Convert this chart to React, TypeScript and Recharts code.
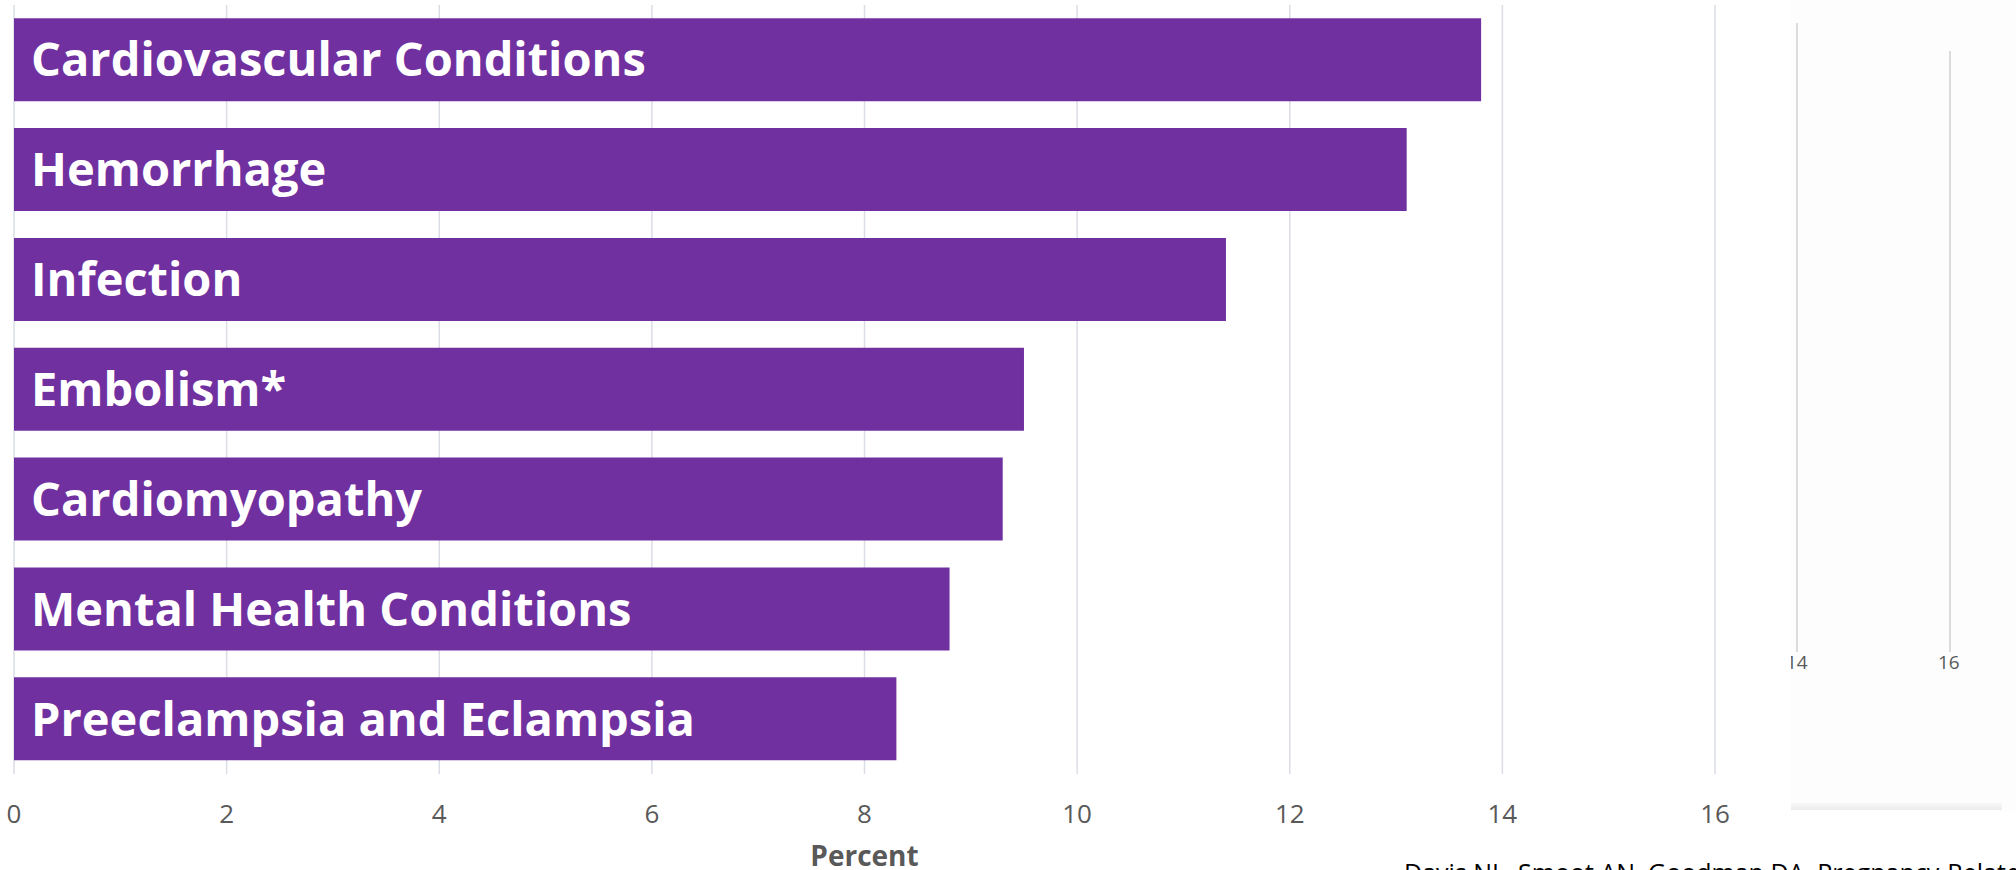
import { BarChart, Bar, XAxis, YAxis, CartesianGrid, LabelList, Label } from 'recharts';

const causes = [
  'Cardiovascular Conditions',
  'Hemorrhage',
  'Infection',
  'Embolism*',
  'Cardiomyopathy',
  'Mental Health Conditions',
  'Preeclampsia and Eclampsia',
];

const percents = [13.8, 13.1, 11.4, 9.5, 9.3, 8.8, 8.3];

const xTicks = [0, 2, 4, 6, 8, 10, 12, 14, 16];

// leftover pasted snippet on the right side of the slide
const insetTicks = ['14', '16'];

const PURPLE = '#7030A0';
const GRID = '#DADDE6';
const AXIS_TEXT = '#595959';

const chartData = causes.map((name, i) => ({ name, value: percents[i] }));

export default function App() {
  return (
    <div style={{ position: 'absolute', left: 0, top: 0, width: 2016, height: 870, background: '#fff', overflow: 'hidden' }}>
      <BarChart
        width={2016}
        height={870}
        data={chartData}
        layout="vertical"
        margin={{ top: 5, right: 301, left: 14, bottom: 0 }}
        barCategoryGap="12%"
      >
        <CartesianGrid horizontal={false} stroke={GRID} strokeWidth={1.5} />
        <XAxis
          type="number"
          domain={[0, 16]}
          ticks={xTicks}
          interval={0}
          height={96}
          axisLine={false}
          tickLine={false}
          tickMargin={25}
          tick={{ fill: AXIS_TEXT, fontSize: 26, fontFamily: 'Open Sans' }}
        >
          <Label
            value="Percent"
            position="insideBottom"
            offset={4}
            style={{ fill: AXIS_TEXT, fontSize: 28, fontWeight: 'bold', fontFamily: 'Open Sans' }}
          />
        </XAxis>
        <YAxis type="category" dataKey="name" hide />
        <Bar dataKey="value" fill={PURPLE} isAnimationActive={false}>
          <LabelList
            dataKey="name"
            position="insideLeft"
            offset={17}
            style={{ fill: '#fff', fontSize: 47, fontWeight: 'bold', fontFamily: 'Open Sans' }}
          />
        </Bar>
      </BarChart>

      <div style={{ position: 'absolute', left: 1791, top: 0, width: 225, height: 812, background: '#fdfdfd', overflow: 'hidden' }}>
        <div style={{ position: 'absolute', left: 5, top: 23, width: 2, height: 629, background: '#dcdcdc' }} />
        <div style={{ position: 'absolute', left: 158, top: 51, width: 2, height: 601, background: '#dcdcdc' }} />
        {insetTicks.map((t, i) => (
          <div
            key={t}
            style={{
              position: 'absolute',
              left: i === 0 ? -5 : 147,
              top: 651,
              fontFamily: 'Open Sans',
              fontSize: 19,
              color: AXIS_TEXT,
              lineHeight: '22px',
            }}
          >
            {t}
          </div>
        ))}
        <div style={{ position: 'absolute', left: 0, top: 803, width: 211, height: 7, background: 'linear-gradient(#f8f8f8, #ececec)' }} />
      </div>

      <div
        style={{
          position: 'absolute',
          left: 1404,
          top: 859,
          fontFamily: 'Open Sans',
          fontSize: 25,
          lineHeight: '26px',
          color: '#000',
          whiteSpace: 'nowrap',
        }}
      >
        Davis NL, Smoot AN, Goodman DA, Pregnancy-Related Deaths
      </div>
    </div>
  );
}
